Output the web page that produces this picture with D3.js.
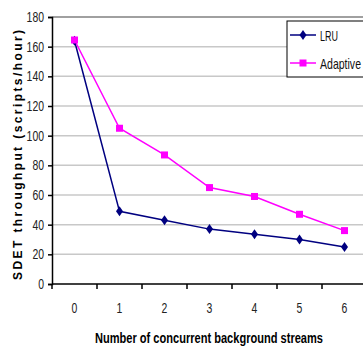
<!DOCTYPE html>
<html>
<head>
<meta charset="utf-8">
<script src="https://cdn.jsdelivr.net/npm/d3@7"></script>
<style>
  body { margin: 0; background: #fff; }
  svg { display: block; font-family: "Liberation Sans Narrow", "Arial Narrow", "Liberation Sans", Arial, sans-serif; }
</style>
</head>
<body>
<div id="chart"></div>
<script>
const streams = ["0", "1", "2", "3", "4", "5", "6"];
const lru = [164, 49, 43, 37, 33.5, 30, 25];
const adaptive = [164.5, 105, 87, 65, 59, 47, 36];
const yTicks = [0, 20, 40, 60, 80, 100, 120, 140, 160, 180];

const width = 363, height = 350;
const margin = { top: 17, left: 52, bottom: 66 };
const plotW = 315;
const plotH = height - margin.top - margin.bottom;

// narrow look: squeeze the digits since no condensed font is installed
const digitW = 5.8;

const svg = d3.select("#chart").append("svg")
  .attr("width", width)
  .attr("height", height);

const g = svg.append("g")
  .attr("transform", "translate(" + margin.left + "," + margin.top + ")");

const x = d3.scaleBand().domain(streams).range([0, plotW]);
const y = d3.scaleLinear().domain([0, 180]).range([plotH, 0]);

// gridlines
g.selectAll(".grid")
  .data(yTicks.filter(d => d > 0))
  .enter().append("line")
  .attr("x1", 0).attr("x2", plotW)
  .attr("y1", d => y(d)).attr("y2", d => y(d))
  .attr("stroke", d => d === 180 ? "#808080" : "#c8c8c8")
  .attr("stroke-width", 1.5);

// y axis
const yAxis = g.append("g")
  .call(d3.axisLeft(y).tickValues(yTicks).tickSize(4).tickPadding(4));
yAxis.select(".domain").attr("stroke", "#000").attr("stroke-width", 1.5);
yAxis.selectAll("line").attr("stroke", "#000").attr("stroke-width", 1.5);
yAxis.selectAll("text")
  .attr("font-size", 14).attr("fill", "#222")
  .attr("textLength", d => String(d).length * digitW)
  .attr("lengthAdjust", "spacingAndGlyphs");

// x axis: ticks at band boundaries, labels at band centres
const xAxis = g.append("g").attr("transform", "translate(0," + plotH + ")");
xAxis.append("line").attr("x1", 0).attr("x2", plotW)
  .attr("stroke", "#000").attr("stroke-width", 1.5);
xAxis.selectAll(".tk")
  .data(streams)
  .enter().append("line")
  .attr("x1", d => x(d)).attr("x2", d => x(d))
  .attr("y1", 0).attr("y2", 5)
  .attr("stroke", "#000").attr("stroke-width", 1.5);
xAxis.selectAll(".lbl")
  .data(streams)
  .enter().append("text")
  .attr("x", d => x(d) + x.bandwidth() / 2)
  .attr("y", 29)
  .attr("text-anchor", "middle")
  .attr("font-size", 14)
  .attr("fill", "#222")
  .attr("textLength", digitW)
  .attr("lengthAdjust", "spacingAndGlyphs")
  .text(d => d);

// lines
const line = d3.line()
  .x((d, i) => x(streams[i]) + x.bandwidth() / 2)
  .y(d => y(d));

g.append("path").datum(lru)
  .attr("d", line).attr("fill", "none")
  .attr("stroke", "#000080").attr("stroke-width", 1.5);
g.append("path").datum(adaptive)
  .attr("d", line).attr("fill", "none")
  .attr("stroke", "#ff00ff").attr("stroke-width", 1.5);

const diamond = "M0,-5L3.5,0L0,5L-3.5,0Z";

g.selectAll(".lruPt")
  .data(lru)
  .enter().append("path")
  .attr("d", diamond)
  .attr("transform", (d, i) => "translate(" + (x(streams[i]) + x.bandwidth() / 2) + "," + y(d) + ")")
  .attr("fill", "#000080");

g.selectAll(".adPt")
  .data(adaptive)
  .enter().append("rect")
  .attr("x", (d, i) => x(streams[i]) + x.bandwidth() / 2 - 3.5)
  .attr("y", d => y(d) - 3.5)
  .attr("width", 7).attr("height", 7)
  .attr("fill", "#ff00ff");

// legend
const leg = svg.append("g").attr("transform", "translate(287,21)");
leg.append("rect").attr("x", 0).attr("y", 0).attr("width", 90).attr("height", 56)
  .attr("fill", "#fff").attr("stroke", "#000").attr("stroke-width", 1);
const legItems = [
  { name: "LRU", color: "#000080", shape: "diamond", yy: 14, w: 18 },
  { name: "Adaptive", color: "#ff00ff", shape: "square", yy: 42, w: 41 }
];
legItems.forEach(it => {
  leg.append("line").attr("x1", 3).attr("x2", 29).attr("y1", it.yy).attr("y2", it.yy)
    .attr("stroke", it.color).attr("stroke-width", 1.5);
  if (it.shape === "diamond") {
    leg.append("path").attr("d", diamond)
      .attr("transform", "translate(16," + it.yy + ")").attr("fill", it.color);
  } else {
    leg.append("rect").attr("x", 12.5).attr("y", it.yy - 3.5).attr("width", 7).attr("height", 7)
      .attr("fill", it.color);
  }
  leg.append("text").attr("x", 33).attr("y", it.yy + 5.5)
    .attr("font-size", 15).attr("fill", "#111")
    .attr("textLength", it.w).attr("lengthAdjust", "spacingAndGlyphs")
    .text(it.name);
});

// axis titles
svg.append("text")
  .attr("transform", "translate(22," + 155 + ") rotate(-90)")
  .attr("text-anchor", "middle")
  .attr("font-size", 12).attr("font-weight", "bold")
  .attr("textLength", 250).attr("lengthAdjust", "spacing")
  .text("SDET throughput (scripts/hour)");

svg.append("text")
  .attr("x", 209)
  .attr("y", 343)
  .attr("text-anchor", "middle")
  .attr("font-size", 15).attr("font-weight", "bold")
  .attr("textLength", 228).attr("lengthAdjust", "spacingAndGlyphs")
  .text("Number of concurrent background streams");
</script>
</body>
</html>
